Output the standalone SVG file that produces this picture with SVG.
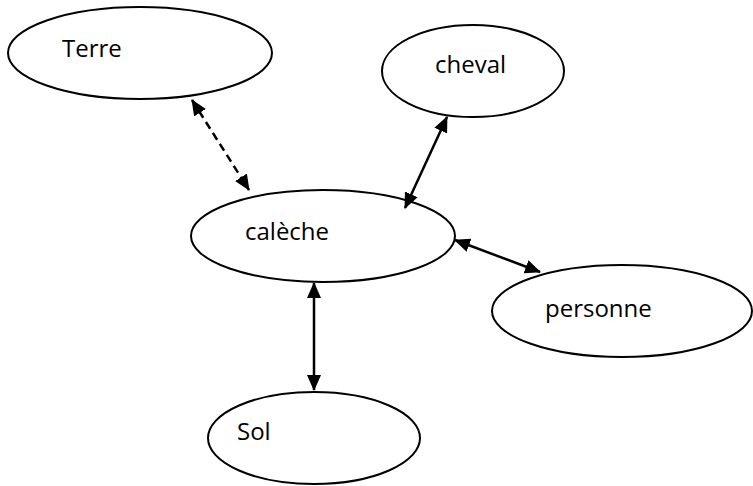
<svg xmlns="http://www.w3.org/2000/svg" width="753" height="486" viewBox="0 0 753 486">
<style>
.node ellipse{fill:#fff;stroke:#000;stroke-width:2}
.node text{font-family:"Open Sans","DejaVu Sans",sans-serif;font-size:24px;fill:#000}
.edge{stroke:#000;stroke-width:2.5;fill:none}
.dash{stroke-dasharray:8 5}
</style>
<defs>
<marker id="ah" viewBox="0 0 16 14" refX="15" refY="7" markerWidth="16" markerHeight="14" markerUnits="userSpaceOnUse" orient="auto-start-reverse">
<path d="M0,0 L16,7 L0,14 z" fill="#000"/>
</marker>
</defs>
<rect width="753" height="486" fill="#fff"/>
<g id="n-terre" class="node"><ellipse cx="140" cy="53" rx="132" ry="46"/><text x="62" y="57">Terre</text></g>
<g id="n-cheval" class="node"><ellipse cx="473" cy="71" rx="91" ry="46"/><text x="435" y="73">cheval</text></g>
<g id="n-caleche" class="node"><ellipse cx="323" cy="236" rx="132" ry="46"/><text x="245" y="240">calèche</text></g>
<g id="n-personne" class="node"><ellipse cx="622" cy="311" rx="130" ry="46"/><text x="545" y="317">personne</text></g>
<g id="n-sol" class="node"><ellipse cx="314" cy="438" rx="106" ry="46"/><text x="237" y="440">Sol</text></g>
<g id="edges">
<line class="edge dash" x1="192" y1="100" x2="249" y2="190" marker-start="url(#ah)" marker-end="url(#ah)"/>
<line class="edge" x1="447" y1="117" x2="405" y2="208" marker-start="url(#ah)" marker-end="url(#ah)"/>
<line class="edge" x1="455" y1="240" x2="540" y2="272" marker-start="url(#ah)" marker-end="url(#ah)"/>
<line class="edge" x1="314" y1="283" x2="314" y2="390" marker-start="url(#ah)" marker-end="url(#ah)"/>
</g>
</svg>
